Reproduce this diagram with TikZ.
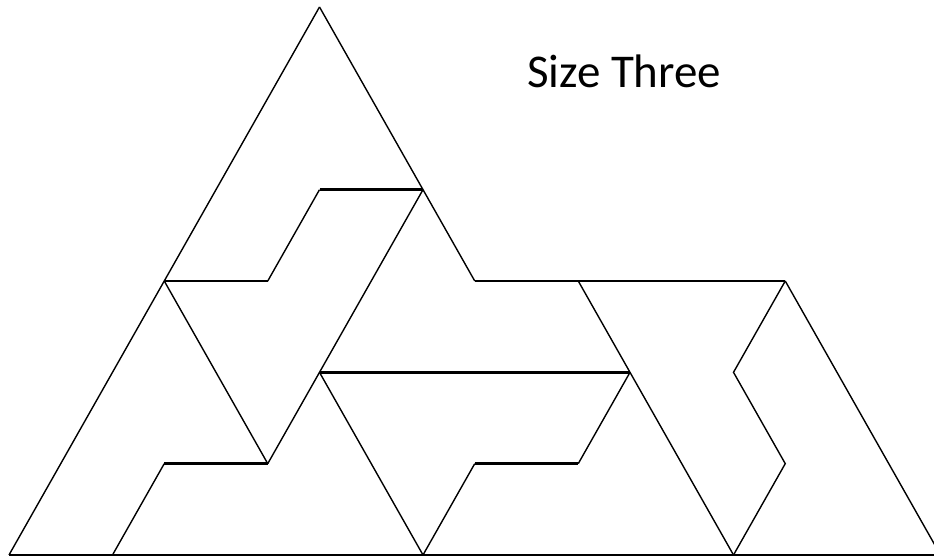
\documentclass[tikz,border=0pt]{standalone}
\usepackage{fontspec}
\setmainfont{Carlito}
\begin{document}
\begin{tikzpicture}[x=1pt,y=-1pt,
  diag/.style={line width=1.4pt, line join=miter},
  horiz/.style={line width=2.6pt},
  label/.style={anchor=base west, inner sep=0pt, font=\fontsize{47}{52}\selectfont}]
\useasboundingbox (0,0) rectangle (934,559);
\clip (0,0) rectangle (934,559);
\begin{scope}[shift={(9,7)}, x=51.75pt, y=-91.33pt]
  \coordinate (A) at (6,0);
  \coordinate (BL) at (0,6);
  \coordinate (B2) at (2,6);
  \coordinate (B8) at (8,6);
  \coordinate (B14) at (14,6);
  \coordinate (BR) at (18,6);
  \coordinate (c62) at (6,2);
  \coordinate (c82) at (8,2);
  \coordinate (c33) at (3,3);
  \coordinate (c53) at (5,3);
  \coordinate (c93) at (9,3);
  \coordinate (c113) at (11,3);
  \coordinate (c153) at (15,3);
  \coordinate (c64) at (6,4);
  \coordinate (c124) at (12,4);
  \coordinate (c144) at (14,4);
  \coordinate (c35) at (3,5);
  \coordinate (c55) at (5,5);
  \coordinate (c95) at (9,5);
  \coordinate (c115) at (11,5);
  \coordinate (c155) at (15,5);

  % outline
  \draw[diag] (A) -- (BL);
  \draw[diag] (A) -- (c82) -- (c93);
  \draw[horiz] (c93) -- (c153);
  \draw[diag] (c153) -- (BR);
  \draw[diag] (BL) -- (BR);
  % upper left piece
  \draw[horiz] (c33) -- (c53);
  \draw[diag] (c53) -- (c62);
  \draw[horiz] (c62) -- (c82);
  \draw[diag] (c82) -- (c55);
  \draw[diag] (c33) -- (c55);
  \draw[horiz] (c55) -- (c35);
  \draw[diag] (c35) -- (B2);
  % middle
  \draw[horiz] (c64) -- (c124);
  \draw[diag] (c64) -- (B8);
  \draw[diag] (B8) -- (c95);
  \draw[horiz] (c95) -- (c115);
  \draw[diag] (c115) -- (c124);
  \draw[diag] (c113) -- (B14);
  % right zigzag
  \draw[diag] (c153) -- (c144) -- (c155) -- (B14);
\end{scope}
\node[label] (title) at (527,88) {Size Three};
\end{tikzpicture}
\end{document}
